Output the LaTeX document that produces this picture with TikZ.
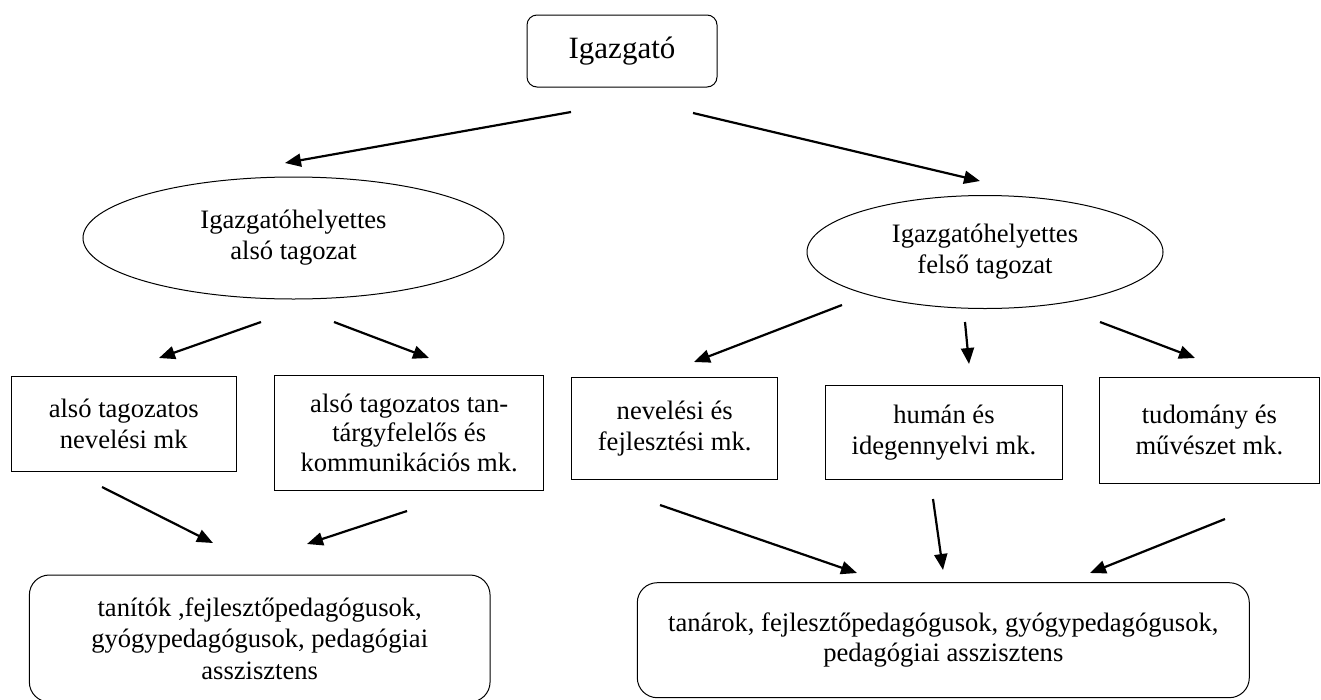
\documentclass[tikz,border=0pt]{standalone}
\usepackage{fontspec}
\setmainfont{Liberation Serif}
\usetikzlibrary{arrows.meta,shapes.geometric}
\begin{document}
\begin{tikzpicture}[x=1pt,y=-1pt,
  nodebase/.style={draw=black,line width=1pt,inner sep=0pt,align=center,font=\fontsize{26.6}{31}\selectfont},
  sqbox/.style={nodebase,rectangle},
  rbox/.style={nodebase,rectangle,rounded corners=#1},
  oval/.style={nodebase,ellipse},
  arr/.style={line width=2.2pt,-{Triangle[length=16pt,width=13pt]}}]
\useasboundingbox (0,0) rectangle (1321,699);
% nodes
\node[rbox=10pt, minimum width=190pt, minimum height=72pt, font=\fontsize{31}{36}\selectfont] (top) at (622,51) {Igazgató};
\node[oval, minimum width=421pt, minimum height=122pt] (e1) at (293.5,238) {Igazgatóhelyettes\\alsó tagozat};
\node[oval, minimum width=356pt, minimum height=113pt] (e2) at (985,252) {Igazgatóhelyettes\\ felső tagozat};
\node[sqbox, minimum width=224.5pt, minimum height=94.3pt] (b1) at (123.75,423.85) {alsó tagozatos\\nevelési mk};
\node[sqbox, minimum width=269.2pt, minimum height=115.7pt, font=\fontsize{26.6}{29.5}\selectfont] (b2) at (409.2,432.85) {alsó tagozatos tan-\\tárgyfelelős és\\kommunikációs mk.};
\node[sqbox, minimum width=206pt, minimum height=102pt] (b3) at (674.7,428.3) {nevelési és\\fejlesztési mk.};
\node[sqbox, minimum width=237pt, minimum height=94.3pt] (b4) at (944,432.2) {humán és\\idegennyelvi mk.};
\node[sqbox, minimum width=220.2pt, minimum height=106.3pt] (b5) at (1209.4,430.2) {tudomány és\\művészet mk.};
\node[rbox=20pt, minimum width=460.7pt, minimum height=127pt, font=\fontsize{26.6}{31.5}\selectfont] (r1) at (259.7,638.5) {tanítók ,fejlesztőpedagógusok,\\gyógypedagógusok, pedagógiai\\asszisztens};
\node[rbox=20pt, minimum width=612pt, minimum height=115pt, font=\fontsize{26.6}{30}\selectfont] (r2) at (943.3,640.2) {tanárok, fejlesztőpedagógusok, gyógypedagógusok,\\pedagógiai asszisztens};
% arrow end points
\coordinate (a1s) at (571,112);  \coordinate (a1e) at (285,163);
\coordinate (a2s) at (693,113);  \coordinate (a2e) at (980,181);
\coordinate (a3s) at (261,322);  \coordinate (a3e) at (159,358);
\coordinate (a4s) at (334,322);  \coordinate (a4e) at (429,358);
\coordinate (a5s) at (842,305);  \coordinate (a5e) at (694,362);
\coordinate (a6s) at (965,322);  \coordinate (a6e) at (969,364);
\coordinate (a7s) at (1100,322); \coordinate (a7e) at (1195,358);
\coordinate (a8s) at (102,487);  \coordinate (a8e) at (213,543);
\coordinate (a9s) at (407,511);  \coordinate (a9e) at (307,544);
\coordinate (a10s) at (660,505); \coordinate (a10e) at (857,573);
\coordinate (a11s) at (933,499); \coordinate (a11e) at (943,570);
\coordinate (a12s) at (1225,519); \coordinate (a12e) at (1090,573);
% arrows
\draw[arr] (a1s) -- (a1e);
\draw[arr] (a2s) -- (a2e);
\draw[arr] (a3s) -- (a3e);
\draw[arr] (a4s) -- (a4e);
\draw[arr] (a5s) -- (a5e);
\draw[arr] (a6s) -- (a6e);
\draw[arr] (a7s) -- (a7e);
\draw[arr] (a8s) -- (a8e);
\draw[arr] (a9s) -- (a9e);
\draw[arr] (a10s) -- (a10e);
\draw[arr] (a11s) -- (a11e);
\draw[arr] (a12s) -- (a12e);
\end{tikzpicture}
\end{document}
